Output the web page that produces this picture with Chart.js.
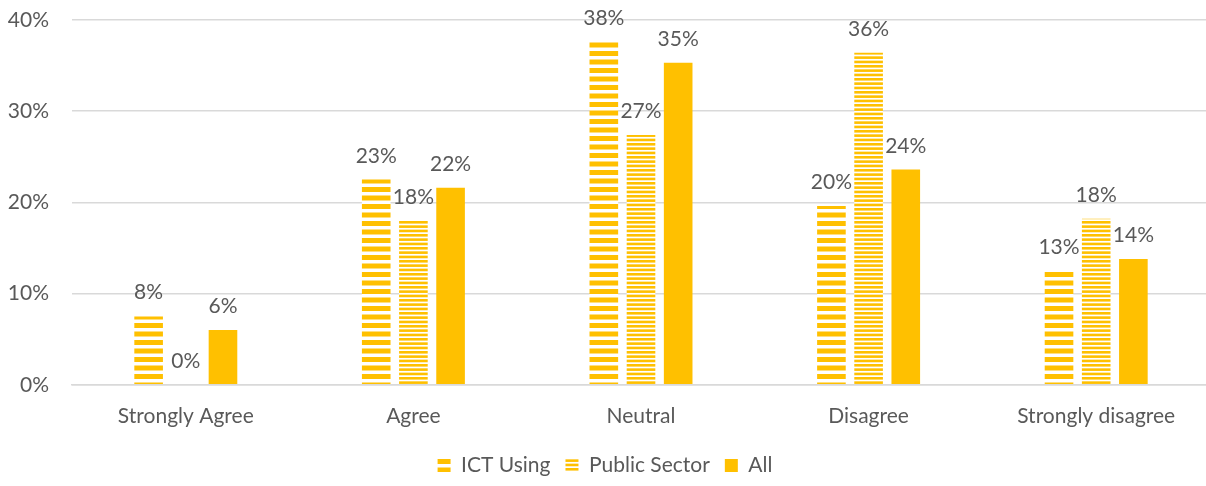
<!DOCTYPE html>
<html>
<head>
<meta charset="utf-8">
<script src="https://cdn.jsdelivr.net/npm/chart.js@4/dist/chart.umd.min.js"></script>
<style>
  html, body { margin: 0; padding: 0; background: #fff; overflow: hidden; }
  #wrap { position: relative; width: 1210px; height: 486px; }
</style>
</head>
<body>
<div id="wrap"><canvas id="chart"></canvas></div>
<script>
// Survey response shares (%)
const categories = ["Strongly Agree", "Agree", "Neutral", "Disagree", "Strongly disagree"]
const ictUsing = [7.5, 22.5, 37.6, 19.6, 12.5]
const publicSector = [0, 18, 27.4, 36.4, 18.2]
const allResp = [6, 21.6, 35.3, 23.6, 13.8]
const yTicks = [0, 10, 20, 30, 40]

const GOLD = "#FFC000"
const TEXT = "#595959"
const FONT = "Lato, 'Open Sans', sans-serif"
const FSIZE = 21

// horizontal stripe fill, like Excel's pattern fills
function stripes(period, thick, count) {
  const c = document.createElement("canvas")
  c.width = 8
  c.height = Math.round(period * count)
  const g = c.getContext("2d")
  g.fillStyle = "#fff"
  g.fillRect(0, 0, c.width, c.height)
  g.fillStyle = GOLD
  for (let i = 0; i < count; i++) {
    g.fillRect(0, i * period, c.width, thick)
  }
  return g.createPattern(c, "repeat")
}

const ictPattern = stripes(8.5, 5, 2)
const publicPattern = stripes(4.33, 2.6, 3)

// value labels above each bar
const barLabels = {
  id: "barLabels",
  afterDatasetsDraw(chart) {
    const ctx = chart.ctx
    ctx.save()
    ctx.font = FSIZE + "px " + FONT
    ctx.fillStyle = TEXT
    ctx.textAlign = "center"
    ctx.textBaseline = "alphabetic"
    chart.data.datasets.forEach((ds, i) => {
      chart.getDatasetMeta(i).data.forEach((bar, j) => {
        ctx.fillText(Math.round(ds.data[j]) + "%", bar.x, bar.y - 17)
      })
    })
    ctx.restore()
  },
}

new Chart(document.getElementById("chart"), {
  type: "bar",
  data: {
    labels: categories,
    datasets: [
      { label: "ICT Using", data: ictUsing, backgroundColor: ictPattern },
      { label: "Public Sector", data: publicSector, backgroundColor: publicPattern },
      { label: "All", data: allResp, backgroundColor: GOLD },
    ],
  },
  options: {
    responsive: true,
    maintainAspectRatio: false,
    animation: false,
    categoryPercentage: 0.49,
    barPercentage: 0.77,
    layout: { padding: { top: 20, right: 0, left: 0, bottom: 0 } },
    plugins: {
      legend: {
        position: "bottom",
        labels: {
          color: TEXT,
          font: { size: FSIZE, family: FONT },
          boxWidth: 13,
          boxHeight: 13,
          padding: 15,
        },
      },
      tooltip: { enabled: false },
    },
    scales: {
      y: {
        min: 0,
        max: 40,
        afterBuildTicks: (axis) => {
          axis.ticks = yTicks.map((v) => ({ value: v }))
        },
        afterFit: (axis) => {
          // fixed axis width, and no extra top/bottom padding from tick padding
          axis.width = 72
          axis.paddingTop = 0
          axis.paddingBottom = 0
        },
        ticks: {
          color: TEXT,
          font: { size: FSIZE, family: FONT },
          padding: 23,
          callback: (v) => v + "%",
        },
        grid: { color: "#D9D9D9", lineWidth: 1.5, drawTicks: false },
        border: { display: false },
      },
      x: {
        ticks: { color: TEXT, font: { size: FSIZE, family: FONT }, padding: 11 },
        grid: { display: false },
        border: { color: "#D9D9D9", width: 1.5 },
      },
    },
  },
  plugins: [barLabels],
})
</script>
</body>
</html>
